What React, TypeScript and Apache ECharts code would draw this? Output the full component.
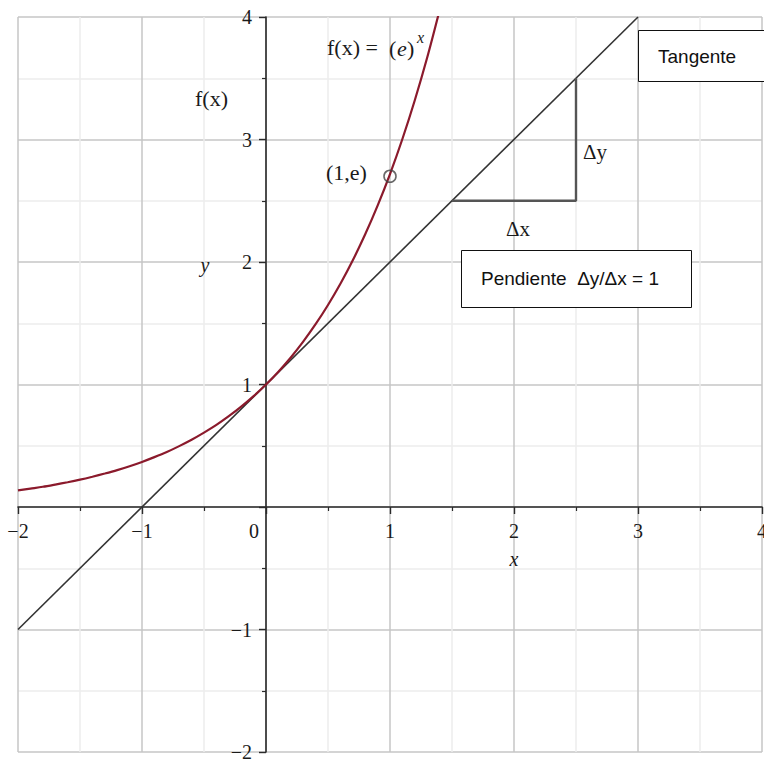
import React, { useEffect, useRef } from "react";
import * as echarts from "echarts";

// Sample points of f(x) = e^x (x from -2 to 1.4, step 0.1)
const curveX = [
  -2.0, -1.9, -1.8, -1.7, -1.6, -1.5, -1.4, -1.3, -1.2, -1.1, -1.0, -0.9, -0.8, -0.7, -0.6, -0.5, -0.4, -0.3,
  -0.2, -0.1, 0.0, 0.1, 0.2, 0.3, 0.4, 0.5, 0.6, 0.7, 0.8, 0.9, 1.0, 1.1, 1.2, 1.3, 1.4,
];
const curveY = [
  0.135, 0.15, 0.165, 0.183, 0.202, 0.223, 0.247, 0.273, 0.301, 0.333, 0.368, 0.407, 0.449, 0.497, 0.549,
  0.607, 0.67, 0.741, 0.819, 0.905, 1.0, 1.105, 1.221, 1.35, 1.492, 1.649, 1.822, 2.014, 2.226, 2.46, 2.718,
  3.004, 3.32, 3.669, 4.055,
];

// Tangent line y = x + 1
const tangentX = [-2, 3];
const tangentY = [-1, 4];

// Slope triangle (Δx then Δy)
const triangleX = [1.5, 2.5, 2.5];
const triangleY = [2.5, 2.5, 3.5];

// Marked point (1, e)
const pointX = [1];
const pointY = [2.7];

const axisMin = -2;
const axisMax = 4;
const axisStep = 1;

const SERIF = "Liberation Serif";
const SANS = "Liberation Sans";

// Plot rectangle
const GRID_LEFT = 18;
const GRID_TOP = 17;
const GRID_W = 744;
const GRID_H = 735;

// Distance from the grid edge to the zero lines, so the axes cross at the origin
const X_ZERO_PX = (GRID_W * (0 - axisMin)) / (axisMax - axisMin);
const Y_ZERO_PX = (GRID_H * (0 - axisMin)) / (axisMax - axisMin);

const zip = (xs: number[], ys: number[]) => xs.map((x, i) => [x, ys[i]]);

const fmtTick = (v: number) => (v < 0 ? "\u2212" + Math.abs(v) : String(v));

const textEl = (
  x: number,
  y: number,
  text: string,
  fontSize: number,
  extra: Record<string, unknown> = {}
) => ({
  type: "text",
  x,
  y,
  z: 10,
  style: { text, fontFamily: SERIF, fontSize, fill: "#1a1a1a", verticalAlign: "middle", ...extra },
});

export default function App() {
  const ref = useRef<HTMLDivElement>(null);

  useEffect(() => {
    if (!ref.current) return;
    const chart = echarts.init(ref.current, null, { renderer: "svg" });

    const axisCommon = {
      type: "value" as const,
      min: axisMin,
      max: axisMax,
      interval: axisStep,
      axisLine: { show: true, onZero: false, lineStyle: { color: "#2a2a2a", width: 1.6 } },
      axisTick: { show: true, length: 7, lineStyle: { color: "#2a2a2a", width: 1.4 } },
      minorTick: { show: true, splitNumber: 2, length: 4, lineStyle: { color: "#2a2a2a", width: 1.2 } },
      splitLine: { show: true, lineStyle: { color: "#c6c6c6", width: 1.5 } },
      minorSplitLine: { show: true, lineStyle: { color: "#ececec", width: 1.5 } },
    };

    chart.setOption({
      animation: false,
      backgroundColor: "#ffffff",
      grid: {
        left: GRID_LEFT,
        top: GRID_TOP,
        width: GRID_W,
        height: GRID_H,
        containLabel: false,
        outerBoundsMode: "none",
      },
      xAxis: {
        ...axisCommon,
        position: "bottom",
        offset: -Y_ZERO_PX,
        axisLabel: {
          show: true,
          margin: 14,
          color: "#1a1a1a",
          fontFamily: SERIF,
          fontSize: 20,
          hideOverlap: false,
          showMinLabel: true,
          showMaxLabel: true,
          formatter: (v: number) => (v === 0 ? "{z|0}" : fmtTick(v)),
          rich: { z: { fontFamily: SERIF, fontSize: 20, color: "#1a1a1a", padding: [0, 24, 0, 0] } },
        },
      },
      yAxis: {
        ...axisCommon,
        position: "left",
        offset: -X_ZERO_PX,
        axisLabel: {
          show: true,
          margin: 14,
          color: "#1a1a1a",
          fontFamily: SERIF,
          fontSize: 20,
          hideOverlap: false,
          showMinLabel: true,
          showMaxLabel: true,
          formatter: (v: number) => (v === 0 ? "" : fmtTick(v)),
        },
      },
      series: [
        {
          name: "f(x)",
          type: "line",
          data: zip(curveX, curveY),
          showSymbol: false,
          smooth: 0.3,
          clip: true,
          lineStyle: { color: "#8b1a2c", width: 2.2 },
          z: 4,
        },
        {
          name: "Tangente",
          type: "line",
          data: zip(tangentX, tangentY),
          showSymbol: false,
          lineStyle: { color: "#333333", width: 1.6 },
          z: 3,
        },
        {
          name: "Triangulo",
          type: "line",
          data: zip(triangleX, triangleY),
          showSymbol: false,
          lineStyle: { color: "#555555", width: 2.4 },
          z: 3,
        },
        {
          name: "Punto",
          type: "scatter",
          data: zip(pointX, pointY),
          symbol: "circle",
          symbolSize: 12,
          itemStyle: { color: "rgba(255,255,255,0)", borderColor: "#444444", borderWidth: 1.6 },
          z: 5,
        },
      ],
      graphic: [
        textEl(327, 47, "f(x) =", 22),
        textEl(389, 48, "(", 22),
        textEl(397, 48, "e", 22, { fontStyle: "italic" }),
        textEl(407, 48, ")", 22),
        textEl(417, 37, "x", 16, { fontStyle: "italic" }),
        textEl(195, 98, "f(x)", 22),
        textEl(326, 172, "(1,e)", 22),
        textEl(205, 265, "y", 20, { fontStyle: "italic", align: "center" }),
        textEl(514, 559, "x", 20, { fontStyle: "italic", align: "center" }),
        textEl(583, 152, "\u0394y", 21),
        textEl(506, 229, "\u0394x", 21),
        {
          type: "rect",
          z: 10,
          shape: { x: 638.5, y: 30.5, width: 140, height: 51 },
          style: { fill: "#ffffff", stroke: "#111111", lineWidth: 1 },
        },
        {
          type: "text",
          x: 658,
          y: 56,
          z: 11,
          style: { text: "Tangente", fontFamily: SANS, fontSize: 19, fill: "#111111", verticalAlign: "middle" },
        },
        {
          type: "rect",
          z: 10,
          shape: { x: 461.5, y: 250.5, width: 230, height: 57 },
          style: { fill: "#ffffff", stroke: "#111111", lineWidth: 1 },
        },
        {
          type: "text",
          x: 481,
          y: 278,
          z: 11,
          style: {
            text: "Pendiente  \u0394y/\u0394x = 1",
            fontFamily: SANS,
            fontSize: 19,
            fill: "#111111",
            verticalAlign: "middle",
          },
        },
      ],
    });

    return () => chart.dispose();
  }, []);

  return (
    <div
      ref={ref}
      style={{ position: "absolute", left: 0, top: 0, width: 764, height: 760, background: "#ffffff" }}
    />
  );
}
